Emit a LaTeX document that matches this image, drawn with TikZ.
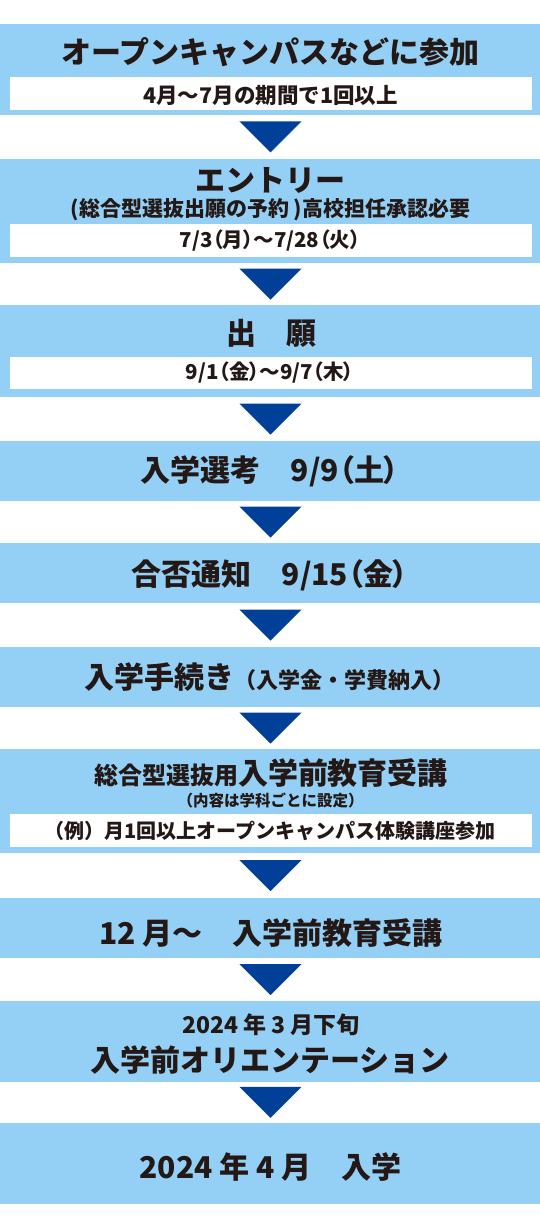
\documentclass[tikz,border=0pt]{standalone}
\usepackage{fontspec}
\setmainfont{Noto Sans CJK JP}[BoldFont={Noto Sans CJK JP Black}]
\newfontfamily\pal{Noto Sans CJK JP}[RawFeature=+palt,BoldFont={Noto Sans CJK JP Black}]
\usetikzlibrary{calc}
\definecolor{lblue}{RGB}{148,208,245}
\definecolor{dblue}{RGB}{0,64,152}
\definecolor{ink}{RGB}{35,24,21}
\begin{document}
\begin{tikzpicture}[x=1pt,y=-1pt,
  bluebox/.style={fill=lblue,draw=none,minimum width=540pt,inner sep=0pt,outer sep=0pt,anchor=north},
  whitebox/.style={fill=white,draw=none,minimum width=522pt,inner sep=0pt,outer sep=0pt,anchor=north},
  txt/.style={inner sep=0pt,outer sep=0pt,text=ink,align=center,anchor=center},
  big/.style={txt,font=\bfseries\fontsize{30}{36}\selectfont},
  mid/.style={txt,font=\bfseries\fontsize{21}{25}\selectfont},
  datetxt/.style={txt,font=\pal\bfseries\fontsize{20.5}{25}\selectfont},
  small/.style={txt,font=\bfseries\fontsize{20.5}{25}\selectfont},
  tiny/.style={txt,font=\bfseries\fontsize{15.5}{18}\selectfont},
  arrowtri/.style={fill=dblue,draw=none}]
\useasboundingbox (0,0) rectangle (540,1219);

% boxes
\node[bluebox,minimum height=91pt]   (b1)  at (270,24) {};
\node[bluebox,minimum height=104.5pt](b2)  at (270,158.5) {};
\node[bluebox,minimum height=92pt]   (b3)  at (270,305) {};
\node[bluebox,minimum height=60pt]   (b4)  at (270,441) {};
\node[bluebox,minimum height=60pt]   (b5)  at (270,543) {};
\node[bluebox,minimum height=60pt]   (b6)  at (270,647) {};
\node[bluebox,minimum height=104pt]  (b7)  at (270,749) {};
\node[bluebox,minimum height=60pt]   (b8)  at (270,898) {};
\node[bluebox,minimum height=80.5pt] (b9)  at (270,1001) {};
\node[bluebox,minimum height=81pt]   (b10) at (270,1123) {};

% white inner boxes
\node[whitebox,minimum height=33pt] (w1) at (270.5,77) {};
\node[whitebox,minimum height=33pt] (w2) at (270.5,224) {};
\node[whitebox,minimum height=32pt] (w3) at (270.5,357) {};
\node[whitebox,minimum height=33pt] (w7) at (270.5,814) {};

% arrows (triangles) between boxes
\foreach \a/\b in {b1/b2,b2/b3,b3/b4,b4/b5,b5/b6,b6/b7,b7/b8,b8/b9,b9/b10}{
  \coordinate (m) at ($(\a.south)!0.5!(\b.north)+(0.5,0)$);
  \fill[arrowtri] ($(m)+(-31.2,-15.5)$) -- ($(m)+(31.2,-15.5)$) -- ($(m)+(0,15.5)$) -- cycle;
}

% texts
\node[big]      (t1)  at (270.5,51.7)  {オープンキャンパスなどに参加};
\node[small,font=\bfseries\fontsize{21.5}{25}\selectfont] (s1) at (270.5,95.5) {4月～7月の期間で1回以上};
\node[big]      (t2)  at (270.5,180)   {エントリー};
\node[mid]      (u2)  at (270.5,209.5) {(総合型選抜出願の予約 )高校担任承認必要};
\node[datetxt]  (s2)  at (270,241)     {7/3（月）～7/28（火）};
\node[big]      (t3)  at (271,333.7)   {出　願};
\node[datetxt]  (s3)  at (270,373)     {9/1（金）～9/7（木）};
\node[big]      (t4)  at (270,471)     {入学選考\hspace{1em}{\pal 9/9（土）}};
\node[big]      (t5)  at (270,575.5)   {合否通知\hspace{1em}{\pal 9/15（金）}};
\node[big]      (t6)  at (269.5,676.7) {入学手続き{\fontsize{22}{22}\selectfont（入学金・学費納入）}};
\node[big]      (t7)  at (271,773.3)   {{\fontsize{24}{24}\selectfont 総合型選抜用}入学前教育受講};
\node[tiny]     (u7)  at (270.5,800)   {（内容は学科ごとに設定）};
\node[small,font=\bfseries\fontsize{20}{25}\selectfont] (s7) at (270,831) {（例）月1回以上オープンキャンパス体験講座参加};
\node[big]      (t8)  at (271,933.3)   {12 月～\hspace{1em}入学前教育受講};
\node[txt,font=\bfseries\fontsize{23}{26}\selectfont] (t9) at (271,1025) {2024 年 3 月下旬};
\node[big]      (u9)  at (270,1059.7)  {入学前オリエンテーション};
\node[big]      (t10) at (270.5,1166.7){2024 年 4 月\hspace{1em}入学};
\end{tikzpicture}
\end{document}
